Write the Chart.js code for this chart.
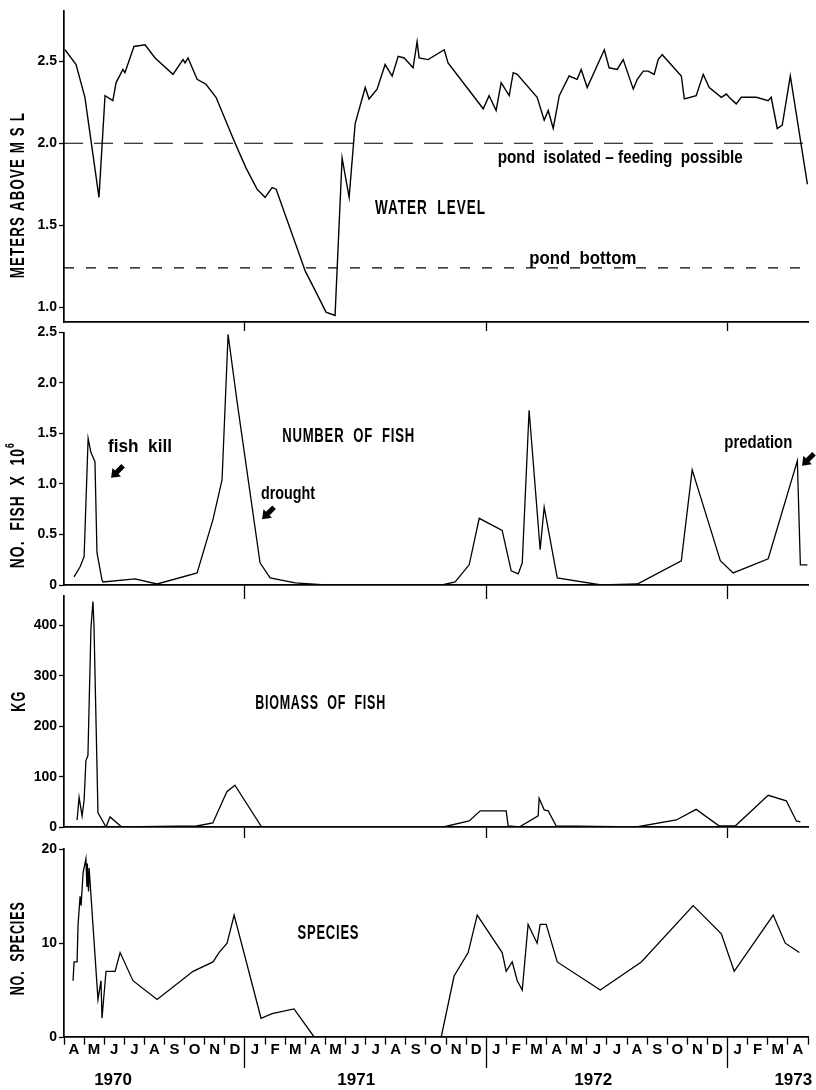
<!DOCTYPE html>
<html><head><meta charset="utf-8">
<script src="https://cdn.jsdelivr.net/npm/chart.js@4.4.1/dist/chart.umd.min.js"></script>
<style>
html,body{margin:0;padding:0;background:#fff;}
#wrap{position:relative;width:816px;height:1090px;overflow:hidden;background:#fff;}
canvas{position:absolute;left:0;}
</style></head><body>
<div id="wrap">
<canvas id="c1" width="816" height="340" style="top:0px"></canvas>
<canvas id="c2" width="816" height="280" style="top:322px"></canvas>
<canvas id="c3" width="816" height="256" style="top:585px"></canvas>
<canvas id="c4" width="816" height="252" style="top:838px"></canvas>
</div>
<script>
// ---------- DATA (x = months since 1 April 1970) ----------
const monthLabels = ['A','M','J','J','A','S','O','N','D','J','F','M','A','M','J','J','A','S','O','N','D','J','F','M','A','M','J','J','A','S','O','N','D','J','F','M','A'];
const yearLabels = ['1970','1971','1972','1973'];
const yearLabelMonths = [2.44, 14.53, 26.32, 36.27];
const yearBoundaries = [9, 21, 33];

const wlMonths = [0.05,0.6,1.04,1.74,2.04,2.43,2.59,2.93,3.03,3.48,4.03,4.53,5.42,5.92,6.02,6.17,6.62,7.06,7.56,8.51,9.05,9.6,10.0,10.35,10.55,12.0,12.5,13.03,13.48,13.83,14.18,14.48,14.98,15.17,15.57,15.97,16.32,16.62,16.92,17.36,17.56,17.66,18.11,18.91,19.1,20.85,21.14,21.49,21.74,22.14,22.34,22.54,23.53,23.88,24.08,24.33,24.63,25.12,25.52,25.72,26.02,26.87,27.11,27.51,27.81,28.31,28.51,28.81,29.05,29.35,29.55,29.75,30.7,30.85,31.44,31.79,32.09,32.69,32.94,33.08,33.43,33.68,34.43,35.02,35.17,35.47,35.72,36.12,36.97];
const wlMeters = [2.57,2.48,2.28,1.67,2.29,2.26,2.37,2.45,2.43,2.59,2.60,2.52,2.42,2.51,2.49,2.52,2.39,2.36,2.28,2.00,1.85,1.72,1.67,1.73,1.72,1.22,1.10,0.97,0.95,1.91,1.67,2.12,2.34,2.27,2.33,2.48,2.41,2.53,2.52,2.46,2.62,2.52,2.51,2.57,2.49,2.21,2.29,2.20,2.37,2.29,2.43,2.42,2.28,2.14,2.20,2.09,2.29,2.41,2.39,2.45,2.34,2.57,2.46,2.45,2.51,2.33,2.39,2.44,2.44,2.42,2.51,2.54,2.41,2.27,2.29,2.42,2.34,2.28,2.30,2.28,2.24,2.28,2.28,2.26,2.28,2.09,2.11,2.41,1.75];
const isolatedLevel = 2.0;   // pond isolated - feeding possible
const bottomLevel = 1.24;    // pond bottom
const wlTicks = [1.0, 1.5, 2.0, 2.5];

const fishMonths = [0.5,0.8,1.0,1.2,1.34,1.54,1.64,1.89,1.94,3.53,4.63,6.62,7.41,7.86,8.16,8.61,9.75,10.25,11.5,13.0,18.8,19.45,20.15,20.65,21.79,22.24,22.59,22.79,23.13,23.68,23.88,24.53,26.72,28.51,30.7,31.24,32.64,33.28,35.02,36.47,36.62,36.97];
const fishMillions = [0.08,0.18,0.28,1.45,1.31,1.22,0.32,0.05,0.03,0.06,0.01,0.12,0.65,1.04,2.48,1.81,0.22,0.07,0.02,0.0,0.0,0.03,0.2,0.66,0.54,0.14,0.11,0.22,1.73,0.35,0.77,0.07,0.0,0.01,0.24,1.14,0.24,0.12,0.26,1.23,0.20,0.20];
const fishTicks = [0, 0.5, 1.0, 1.5, 2.0, 2.5];

const bioMonths = [0.65,0.75,0.9,1.0,1.09,1.19,1.34,1.44,1.49,1.69,2.09,2.29,2.87,6.6,7.4,8.1,8.5,9.83,18.86,20.15,20.7,21.99,22.09,22.64,23.58,23.63,23.88,24.08,24.48,28.46,30.45,31.44,32.59,33.38,35.02,35.92,36.42,36.62];
const bioKg = [14,59,22,53,132,142,395,448,402,28,0,20,0,2,8,70,83,0,0,12,32,32,2,0,22,57,34,32,2,0,14,35,2,2,63,52,12,10];
const bioTicks = [0, 100, 200, 300, 400];

const spMonths = [0.45,0.5,0.65,0.7,0.8,0.85,0.95,1.09,1.14,1.16,1.22,1.25,1.69,1.84,1.89,2.09,2.54,2.79,3.43,4.63,6.42,7.41,7.71,8.11,8.46,9.8,10.35,11.44,12.44,18.76,19.4,20.1,20.55,21.79,21.99,22.29,22.54,22.79,23.08,23.53,23.68,23.98,24.53,26.67,28.71,31.29,32.69,33.33,35.27,35.87,36.57];
const spCount = [6,8,8,12,15,14,17.5,19,16,18.5,15.5,18,4,6,2,7,7,9,6,4,7,8,9,10,13,2,2.5,3,0,0,6.5,9,13,9,7,8,6,5,12,10,12,12,8,5,8,14,11,7,13,10,9];
const spTicks = [0, 10, 20];

// ---------- STYLE ----------
const FONT = "'Liberation Sans', Arial, sans-serif";
const pts = (xs, ys) => xs.map((x, i) => ({x: x, y: ys[i]}));

// draws condensed bold text (scaled horizontally to a target width)
function condensedText(ctx, text, size, w, sp) {
  ctx.font = 'bold ' + size + 'px ' + FONT;
  ctx.letterSpacing = (sp || 0) + 'px';
  const m = ctx.measureText(text).width - (sp || 0);
  const sx = w ? w / m : 1;
  ctx.save();
  ctx.scale(sx, 1);
  ctx.textAlign = 'left';
  ctx.fillText(text, -m / 2, 0);
  ctx.restore();
  ctx.letterSpacing = '0px';
}

const panelText = {
  id: 'panelText',
  afterDraw(chart, args, opts) {
    const ctx = chart.ctx, xs = chart.scales.x, ys = chart.scales.y;
    ctx.save();
    ctx.fillStyle = '#000';
    ctx.textBaseline = 'middle';
    (opts.labels || []).forEach(l => {
      ctx.save();
      ctx.translate(xs.getPixelForValue(l.x), ys.getPixelForValue(l.y));
      condensedText(ctx, l.text, l.size, l.w, l.sp);
      ctx.restore();
    });
    (opts.arrows || []).forEach(a => {
      const cx = xs.getPixelForValue(a.x), cy = ys.getPixelForValue(a.y);
      const L = 17, sw = 5, hw = 12, hl = 8;
      ctx.save();
      ctx.translate(cx, cy);
      ctx.rotate(Math.PI * 0.75);
      ctx.beginPath();
      ctx.moveTo(-L/2, -sw/2); ctx.lineTo(L/2 - hl, -sw/2); ctx.lineTo(L/2 - hl, -hw/2);
      ctx.lineTo(L/2, 0); ctx.lineTo(L/2 - hl, hw/2); ctx.lineTo(L/2 - hl, sw/2);
      ctx.lineTo(-L/2, sw/2); ctx.closePath(); ctx.fill();
      ctx.restore();
    });
    const t = opts.title;
    if (t) {
      ctx.save();
      ctx.translate(t.px, ys.getPixelForValue(t.y));
      ctx.rotate(-Math.PI / 2);
      ctx.textAlign = 'left';
      const sp = t.sp || 0;
      ctx.letterSpacing = sp + 'px';
      ctx.font = 'bold ' + t.size + 'px ' + FONT;
      const m1 = ctx.measureText(t.text).width;
      const supSize = Math.round(t.size * 0.62);
      ctx.font = 'bold ' + supSize + 'px ' + FONT;
      const m2 = t.sup ? ctx.measureText(t.sup).width : 0;
      const tot = m1 + m2 - sp;
      const sx = t.w / tot;
      ctx.translate(-t.w / 2, 0);
      ctx.scale(sx, 1);
      ctx.font = 'bold ' + t.size + 'px ' + FONT;
      ctx.fillText(t.text, 0, 0);
      if (t.sup) { ctx.font = 'bold ' + supSize + 'px ' + FONT; ctx.fillText(t.sup, m1, -t.size * 0.38); }
      ctx.letterSpacing = '0px';
      ctx.restore();
    }
    ctx.restore();
  }
};
Chart.register(panelText);

function lineDs(data, extra) {
  return Object.assign({data: data, borderColor: '#000', borderWidth: 1.3, pointRadius: 0, tension: 0, fill: false}, extra || {});
}

function yScale(min, max, tickVals, fmt) {
  return {
    type: 'linear', position: 'left', min: min, max: max,
    afterBuildTicks: s => { s.ticks = tickVals.map(v => ({value: v})); },
    afterFit: s => { s.width = 64; },
    ticks: {callback: fmt, color: '#000', padding: 2, font: {family: FONT, size: 14, weight: 'bold'}},
    grid: {drawOnChartArea: false, drawTicks: true, tickLength: 5, tickColor: '#000', tickWidth: 1.3},
    border: {display: true, color: '#000', width: 1.7}
  };
}

function xYearTickScale(h, tl) {
  return {
    type: 'linear', position: 'bottom', min: 0, max: 37,
    afterBuildTicks: s => { s.ticks = yearBoundaries.map(v => ({value: v})); },
    afterFit: s => { s.height = h; },
    ticks: {display: false},
    grid: {drawOnChartArea: false, drawTicks: true, tickLength: tl, tickColor: '#000', tickWidth: 1.3},
    border: {display: true, color: '#000', width: 1.7}
  };
}

function baseOpts(padTop, scales, plug) {
  return {
    responsive: false, animation: false, events: [],
    layout: {padding: {top: padTop, left: 0, right: 8, bottom: 0}},
    plugins: {legend: {display: false}, tooltip: {enabled: false}, panelText: plug},
    scales: scales
  };
}

// ---------- PANEL 1: WATER LEVEL ----------
new Chart(document.getElementById('c1'), {
  type: 'line',
  data: {datasets: [
    lineDs(pts(wlMonths, wlMeters), {borderWidth: 1.4}),
    lineDs([{x: 0, y: isolatedLevel}, {x: 37, y: isolatedLevel}], {borderDash: [19, 11], borderWidth: 1.2}),
    lineDs([{x: 0, y: bottomLevel}, {x: 36.6, y: bottomLevel}], {borderDash: [10, 12], borderWidth: 1.2})
  ]},
  options: baseOpts(8, {
    x: xYearTickScale(18, 9),
    y: yScale(0.91, 2.81, wlTicks, v => v.toFixed(1))
  }, {
    labels: [
      {text: 'WATER  LEVEL', x: 18.2, y: 1.60, size: 20, w: 110, sp: 1.5},
      {text: 'pond  isolated \u2013 feeding  possible', x: 27.66, y: 1.91, size: 18, w: 245},
      {text: 'pond  bottom', x: 25.8, y: 1.295, size: 18, w: 107}
    ],
    title: {text: 'METERS ABOVE M S L', px: 18, y: 1.68, size: 21, w: 165, sp: 1.8}
  })
});

// ---------- PANEL 2: NUMBER OF FISH ----------
new Chart(document.getElementById('c2'), {
  type: 'line',
  data: {datasets: [lineDs(pts(fishMonths, fishMillions))]},
  options: baseOpts(10, {
    x: xYearTickScale(17, 14),
    y: yScale(0, 2.5, fishTicks, v => v === 0 ? '0' : v.toFixed(1))
  }, {
    labels: [
      {text: 'NUMBER  OF  FISH', x: 14.13, y: 1.47, size: 20, w: 132, sp: 1.2},
      {text: 'fish  kill', x: 3.78, y: 1.37, size: 19, w: 64},
      {text: 'drought', x: 11.14, y: 0.90, size: 19, w: 54},
      {text: 'predation', x: 34.53, y: 1.41, size: 19, w: 68}
    ],
    arrows: [{x: 2.64, y: 1.12}, {x: 10.15, y: 0.71}, {x: 37.0, y: 1.24}],
    title: {text: 'NO.  FISH  X  10', sup: '6', px: 18, y: 0.785, size: 21, w: 125, sp: 1.5}
  })
});

// ---------- PANEL 3: BIOMASS ----------
new Chart(document.getElementById('c3'), {
  type: 'line',
  data: {datasets: [lineDs(pts(bioMonths, bioKg))]},
  options: baseOpts(9, {
    x: xYearTickScale(14, 11),
    y: yScale(0, 460, bioTicks, v => String(v))
  }, {
    labels: [{text: 'BIOMASS  OF  FISH', x: 12.74, y: 245, size: 20, w: 130, sp: 1.2}],
    title: {text: 'KG', px: 19, y: 249, size: 21, w: 20, sp: 1.5}
  })
});

// ---------- PANEL 4: SPECIES ----------
new Chart(document.getElementById('c4'), {
  type: 'line',
  data: {datasets: [lineDs(pts(spMonths, spCount))]},
  options: baseOpts(7, {
    x: {
      type: 'linear', position: 'bottom', weight: 0, min: 0, max: 37,
      afterBuildTicks: s => { s.ticks = monthLabels.map((_, i) => ({value: i})).concat([{value: 37}]); },
      afterFit: s => { s.height = 33; },
      ticks: {callback: (v, i) => monthLabels[i] || '', autoSkip: false, maxRotation: 0, labelOffset: 10, padding: -27,
              color: '#000', font: {family: FONT, size: 15, weight: 'bold'}},
      grid: {drawOnChartArea: false, drawTicks: true, tickLength: 31, tickColor: '#000', tickWidth: 1.3,
             tickBorderDash: c => (c.tick && yearBoundaries.includes(c.tick.value)) ? [] : [7, 60]},
      border: {display: true, color: '#000', width: 1.7}
    },
    xYear: {
      type: 'linear', position: 'bottom', weight: 1, min: 0, max: 37,
      afterBuildTicks: s => { s.ticks = yearLabelMonths.map(v => ({value: v})); },
      afterFit: s => { s.height = 20; },
      ticks: {callback: (v, i) => yearLabels[i], autoSkip: false, maxRotation: 0, padding: 0,
              color: '#000', font: {family: FONT, size: 17, weight: 'bold'}},
      grid: {display: false, drawTicks: false},
      border: {display: false}
    },
    y: yScale(0, 20.1, spTicks, v => String(v))
  }, {
    labels: [{text: 'SPECIES', x: 13.13, y: 11.0, size: 20, w: 61, sp: 1.2}],
    title: {text: 'NO.  SPECIES', px: 18, y: 9.4, size: 21, w: 93, sp: 1.5}
  })
});
</script>
</body></html>
